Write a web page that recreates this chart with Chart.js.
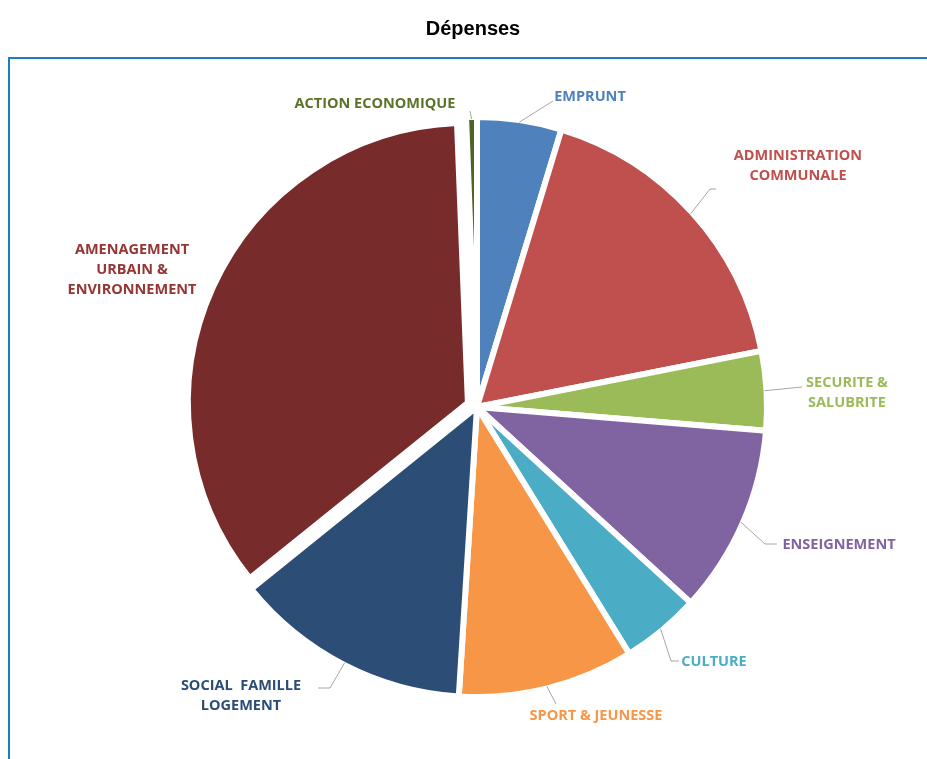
<!DOCTYPE html>
<html lang="fr">
<head>
<meta charset="utf-8">
<title>Dépenses</title>
<script src="https://cdn.jsdelivr.net/npm/chart.js@4.4.1/dist/chart.umd.min.js"></script>
<style>
    html, body { margin: 0; padding: 0; background: #fff; }
    #wrap { position: relative; width: 927px; height: 759px; overflow: hidden; }
    #cadre {
        position: absolute; left: 8px; top: 57px; right: -4px; bottom: -4px;
        border-top: 2px solid #1f7dbf; border-left: 2px solid #1f7dbf;
    }
    #graphique { position: absolute; left: 0; top: 0; }
</style>
</head>
<body>
<div id="wrap">
    <div id="cadre"></div>
    <canvas id="graphique" width="927" height="759"></canvas>
</div>
<script>
// Données (parts en %)
const categories = [
    'EMPRUNT', 'ADMINISTRATION COMMUNALE', 'SECURITE & SALUBRITE', 'ENSEIGNEMENT',
    'CULTURE', 'SPORT & JEUNESSE', 'SOCIAL  FAMILLE LOGEMENT',
    'AMENAGEMENT URBAIN & ENVIRONNEMENT', 'ACTION ECONOMIQUE'
];
const parts = [4.7, 17.2, 4.4, 10.5, 4.4, 9.8, 13.2, 35.2, 0.6];
const etiquettes = [
    ['EMPRUNT'],
    ['ADMINISTRATION', 'COMMUNALE'],
    ['SECURITE &', 'SALUBRITE'],
    ['ENSEIGNEMENT'],
    ['CULTURE'],
    ['SPORT & JEUNESSE'],
    ['SOCIAL  FAMILLE', 'LOGEMENT'],
    ['AMENAGEMENT', 'URBAIN &', 'ENVIRONNEMENT'],
    ['ACTION ECONOMIQUE']
];

// Styles
const couleurs = ['#4f81bd', '#c0504d', '#9bbb59', '#8064a2', '#4bacc6', '#f79646', '#2c4d75', '#772b2a', '#4f6228'];
const couleursTexte = ['#4f81bd', '#c0504d', '#9bbb59', '#8064a2', '#4bacc6', '#f79646', '#2c4d75', '#943634', '#5b7328'];
const decalages = [0, 0, 0, 0, 0, 0, 0, 40, 0];
const reductionRayon = [0, 0, 0, 0, 0, 0, 0, 12, 0];

// Position des étiquettes (centre de la 1re ligne) et trajet des traits de rappel
const placement = [
    { x: 590, y: 97,  ligne: [[553, 101]] },
    { x: 798, y: 156, ligne: [[710, 189], [716, 189]] },
    { x: 847, y: 383, ligne: [[802, 387]] },
    { x: 839, y: 545, ligne: [[765, 544], [777, 544]] },
    { x: 714, y: 662, ligne: [[671, 661], [679, 661]] },
    { x: 596, y: 716, ligne: [[556, 704]] },
    { x: 241, y: 686, ligne: [[330, 688], [318, 688]] },
    { x: 132, y: 250, ligne: [] },
    { x: 375, y: 104, ligne: [[470, 111]] }
];
const interligne = 20;

const etiquettesPlugin = {
    id: 'etiquettes',
    beforeDatasetsDraw(chart) {
        const meta = chart.getDatasetMeta(0);
        const r = meta.controller.outerRadius;
        meta.data.forEach((arc, i) => { arc.outerRadius = r - (reductionRayon[i] || 0); });
    },
    afterDatasetsDraw(chart) {
        const ctx = chart.ctx;
        const arcs = chart.getDatasetMeta(0).data;
        ctx.save();

        // titre
        ctx.fillStyle = '#000';
        ctx.font = 'bold 20px "Liberation Sans", Arial, sans-serif';
        ctx.textAlign = 'center';
        ctx.textBaseline = 'middle';
        ctx.fillText('Dépenses', 473, 29);

        ctx.font = 'bold 14.5px "Open Sans", sans-serif';
        arcs.forEach((arc, i) => {
            const p = arc.getProps(['x', 'y', 'startAngle', 'endAngle', 'outerRadius']);
            const milieu = (p.startAngle + p.endAngle) / 2;
            const d = (decalages[i] || 0) / 4;
            const sx = p.x + Math.cos(milieu) * (p.outerRadius + d - 2);
            const sy = p.y + Math.sin(milieu) * (p.outerRadius + d - 2);
            const pl = placement[i];

            if (pl.ligne.length) {
                ctx.strokeStyle = '#a6a6a6';
                ctx.lineWidth = 1;
                ctx.beginPath();
                ctx.moveTo(sx, sy);
                pl.ligne.forEach(([x, y]) => ctx.lineTo(x, y));
                ctx.stroke();
            }

            ctx.fillStyle = couleursTexte[i];
            etiquettes[i].forEach((t, k) => ctx.fillText(t, pl.x, pl.y + k * interligne));
        });
        ctx.restore();
    }
};

const ctx = document.getElementById('graphique').getContext('2d');
const chart = new Chart(ctx, {
    type: 'pie',
    data: {
        labels: categories,
        datasets: [{
            data: parts,
            backgroundColor: couleurs,
            borderColor: '#ffffff',
            borderWidth: 6,
            offset: decalages
        }]
    },
    options: {
        responsive: false,
        animation: false,
        radius: 290,
        layout: { padding: { left: 27, right: 0, top: 55, bottom: 0 } },
        plugins: {
            legend: { display: false },
            title: { display: false },
            tooltip: {
                callbacks: {
                    label: function(item) {
                        return `${item.label}: ${item.raw} %`;
                    }
                }
            }
        }
    },
    plugins: [etiquettesPlugin]
});
</script>
</body>
</html>
